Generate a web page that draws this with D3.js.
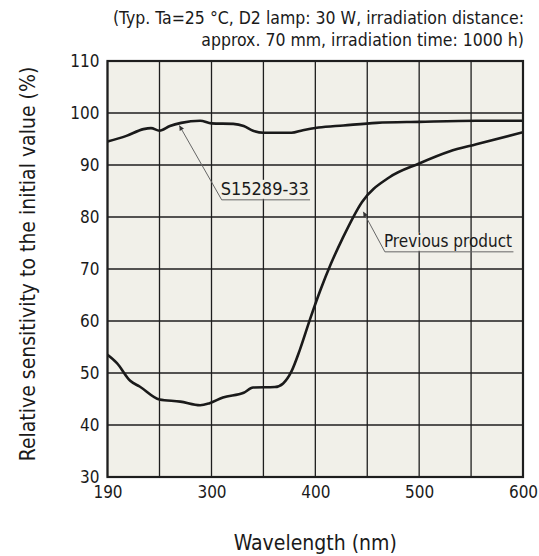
<!DOCTYPE html>
<html>
<head>
<meta charset="utf-8">
<script src="https://cdn.jsdelivr.net/npm/d3@7/dist/d3.min.js"></script>
<style>
  html, body { margin: 0; padding: 0; background: #ffffff; }
  svg { display: block; }
  text { font-family: "DejaVu Sans Condensed", "DejaVu Sans", sans-serif; fill: #1a1a1a; }
</style>
</head>
<body>
<svg id="chart" width="539" height="556"></svg>
<script>
// ---------------- data ----------------
const s15289Wavelength = [190, 210, 228, 236, 245, 256, 268, 288, 300, 321, 331, 340, 350, 377, 388, 403, 427, 459, 500, 555, 600];
const s15289Values     = [94.5, 95.6, 96.9, 97.1, 96.6, 97.5, 98.1, 98.5, 98.0, 97.9, 97.5, 96.6, 96.2, 96.2, 96.7, 97.2, 97.6, 98.1, 98.3, 98.5, 98.5];

const previousWavelength = [190, 200, 214, 224, 245, 267, 288, 298, 311, 331, 340, 361, 369, 377, 385, 395, 405, 415, 426, 445, 471, 500, 529, 555, 600];
const previousValues     = [53.5, 51.9, 48.5, 47.4, 44.9, 44.5, 43.8, 44.2, 45.3, 46.2, 47.2, 47.3, 48.0, 50.3, 54.4, 60.4, 66.0, 71.0, 75.8, 82.9, 87.6, 90.3, 92.6, 94.0, 96.3];

const xTickValues = [190, 300, 400, 500, 600];
const xGridValues = [190, 245, 300, 350, 400, 450, 500, 550, 600];
const yTickValues = [30, 40, 50, 60, 70, 80, 90, 100, 110];

const seriesNames = ["S15289-33", "Previous product"];
const titleLines = ["(Typ. Ta=25 °C, D2 lamp: 30 W, irradiation distance:", "approx. 70 mm, irradiation time: 1000 h)"];
const xAxisTitle = "Wavelength (nm)";
const yAxisTitle = "Relative sensitivity to the initial value (%)";

// annotation anchor points in data units: [tip, elbow, underline end]
const s15289Annotation   = [[266, 97.6], [309.8, 83.3], [394.9, 83.3]];
const previousAnnotation = [[446.2, 81.0], [467, 73.3], [590.8, 73.3]];

// ---------------- layout ----------------
const svg = d3.select("#chart");
const pLeft = 107.5, pRight = 523, pTop = 61, pBottom = 477;
const FONT = '"DejaVu Sans Condensed", "DejaVu Sans", sans-serif';
const FONT_WIDE = '"DejaVu Sans", sans-serif';

const x = d3.scaleLinear().domain([190, 300, 600]).range([pLeft, pLeft + 104, pRight]);
const y = d3.scaleLinear().domain([30, 110]).range([pBottom, pTop]);

// plot background
svg.append("rect")
  .attr("x", pLeft).attr("y", pTop)
  .attr("width", pRight - pLeft).attr("height", pBottom - pTop)
  .attr("fill", "#f1f0e9");

// grid
const grid = svg.append("g").attr("stroke", "#1e1e1e").attr("stroke-width", 1.3);
grid.selectAll("line.v").data(xGridValues).join("line").attr("class", "v")
  .attr("x1", d => x(d)).attr("x2", d => x(d))
  .attr("y1", pTop).attr("y2", pBottom);
grid.selectAll("line.h").data(yTickValues).join("line").attr("class", "h")
  .attr("x1", pLeft).attr("x2", pRight)
  .attr("y1", d => y(d)).attr("y2", d => y(d));

// axes (labels only)
const xAxis = d3.axisBottom(x).tickValues(xTickValues).tickSize(0).tickPadding(9).tickFormat(d3.format("d"));
const gx = svg.append("g").attr("transform", `translate(0,${pBottom})`).call(xAxis);
gx.select(".domain").remove();
gx.selectAll("text").attr("font-size", 17).attr("fill", "#1a1a1a").attr("font-family", FONT);

const yAxis = d3.axisLeft(y).tickValues(yTickValues).tickSize(0).tickPadding(8).tickFormat(d3.format("d"));
const gy = svg.append("g").attr("transform", `translate(${pLeft},0)`).call(yAxis);
gy.select(".domain").remove();
gy.selectAll("text").attr("font-size", 17).attr("fill", "#1a1a1a").attr("font-family", FONT);

// curves
const line = d3.line().x(d => x(d[0])).y(d => y(d[1])).curve(d3.curveMonotoneX);
const s15289 = s15289Wavelength.map((w, i) => [w, s15289Values[i]]);
const previous = previousWavelength.map((w, i) => [w, previousValues[i]]);

svg.append("clipPath").attr("id", "plotclip")
  .append("rect").attr("x", pLeft).attr("y", pTop).attr("width", pRight - pLeft).attr("height", pBottom - pTop);

[s15289, previous].forEach(data => {
  svg.append("path").datum(data)
    .attr("clip-path", "url(#plotclip)")
    .attr("d", line)
    .attr("fill", "none")
    .attr("stroke", "#1a1a1a")
    .attr("stroke-width", 2.6)
    .attr("stroke-linejoin", "round");
});

// frame
svg.append("rect")
  .attr("x", pLeft).attr("y", pTop)
  .attr("width", pRight - pLeft).attr("height", pBottom - pTop)
  .attr("fill", "none").attr("stroke", "#1e1e1e").attr("stroke-width", 2.2);

// annotations
svg.append("defs").append("marker")
  .attr("id", "arrow").attr("viewBox", "0 0 10 10")
  .attr("refX", 10).attr("refY", 5)
  .attr("markerWidth", 7).attr("markerHeight", 5)
  .attr("markerUnits", "userSpaceOnUse")
  .attr("orient", "auto")
  .append("path").attr("d", "M0,0 L10,5 L0,10 z").attr("fill", "#333");

function annotate(points, label, fontSize, bgChars) {
  const p = points.map(d => [x(d[0]), y(d[1])]);
  const g = svg.append("g");
  const t = g.append("text")
    .attr("x", p[1][0] - 1).attr("y", p[1][1] - 5)
    .attr("font-size", fontSize)
    .text(label);
  const bb = t.node().getBBox();
  let w = bb.width;
  if (bgChars) w = t.node().getSubStringLength(0, bgChars);
  g.insert("rect", "text")
    .attr("x", bb.x).attr("y", bb.y + 2)
    .attr("width", w).attr("height", bb.height - 2)
    .attr("fill", "#f1f0e9");
  g.append("path")
    .attr("d", d3.line()([p[2], p[1], p[0]]))
    .attr("fill", "none")
    .attr("stroke", "#666")
    .attr("stroke-width", 1)
    .attr("marker-end", "url(#arrow)");
}
annotate(s15289Annotation, seriesNames[0], 18, null);
annotate(previousAnnotation, seriesNames[1], 17, 8);

// title
svg.append("g").selectAll("text").data(titleLines).join("text")
  .attr("x", 524)
  .attr("y", (d, i) => 24 + i * 22)
  .attr("text-anchor", "end")
  .attr("font-family", FONT_WIDE)
  .attr("font-size", 17.5)
  .text(d => d);

// axis titles
svg.append("text")
  .attr("x", (pLeft + pRight) / 2).attr("y", 550)
  .attr("text-anchor", "middle")
  .attr("font-family", FONT_WIDE)
  .attr("font-size", 21)
  .text(xAxisTitle);

svg.append("text")
  .attr("transform", `translate(34.5,264) rotate(-90)`)
  .attr("text-anchor", "middle")
  .attr("font-family", FONT_WIDE)
  .attr("font-size", 21)
  .text(yAxisTitle);
</script>
</body>
</html>
